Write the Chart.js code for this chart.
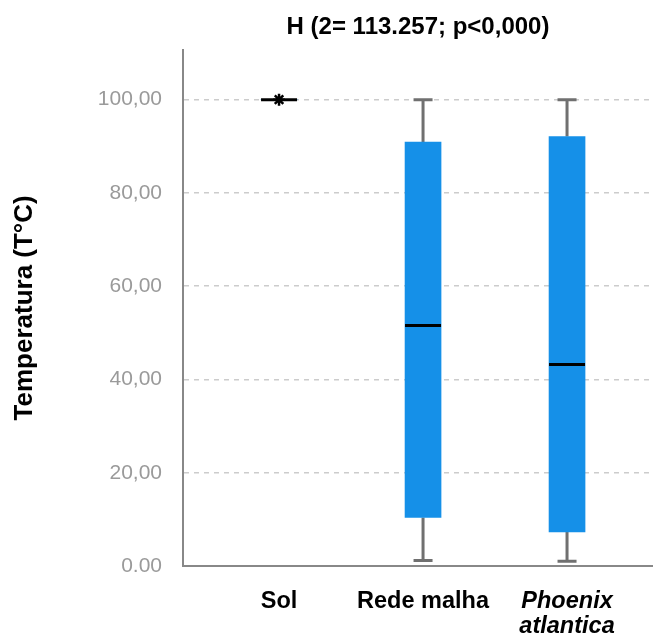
<!DOCTYPE html>
<html>
<head>
<meta charset="utf-8">
<script src="https://cdn.jsdelivr.net/npm/chart.js@4/dist/chart.umd.min.js"></script>
<style>
    body { margin: 0; background: #fff; }
    #boxChart { display: block; }
</style>
</head>
<body>
<canvas id="boxChart" width="653" height="637"></canvas>
<script>
// grupos
const categories = ["Sol", "Rede malha", "Phoenix atlantica"];
const xTickLabels = ["Sol", "Rede malha", ["Phoenix", "atlantica"]];

// resumo de cada caixa
const mins = [100, 1.2, 1.0];
const q1s = [100, 10.4, 7.3];
const medians = [100, 51.6, 43.2];
const q3s = [100, 90.9, 92.1];
const maxs = [100, 100, 100];

// valor extremo (*)
const outlierX = [0];
const outlierY = [100];

const yTickValues = [0, 20, 40, 60, 80, 100];
const yTickLabels = ["0.00", "20,00", "40,00", "60,00", "80,00", "100,00"];

const boxWidth = 36;
const capWidth = 19;

// bigodes e medianas desenhados com as escalas do grafico
const boxPlotLines = {
    id: "boxPlotLines",
    beforeDatasetsDraw(chart) {
        const { ctx, scales: { x, y } } = chart;
        ctx.save();
        ctx.strokeStyle = "#707070";
        ctx.lineWidth = 3;
        categories.forEach((c, i) => {
            const px = x.getPixelForValue(i);
            if (maxs[i] > q3s[i]) {
                ctx.beginPath();
                ctx.moveTo(px, y.getPixelForValue(q3s[i]));
                ctx.lineTo(px, y.getPixelForValue(maxs[i]));
                ctx.moveTo(px - capWidth / 2, y.getPixelForValue(maxs[i]));
                ctx.lineTo(px + capWidth / 2, y.getPixelForValue(maxs[i]));
                ctx.stroke();
            }
            if (mins[i] < q1s[i]) {
                ctx.beginPath();
                ctx.moveTo(px, y.getPixelForValue(q1s[i]));
                ctx.lineTo(px, y.getPixelForValue(mins[i]));
                ctx.moveTo(px - capWidth / 2, y.getPixelForValue(mins[i]));
                ctx.lineTo(px + capWidth / 2, y.getPixelForValue(mins[i]));
                ctx.stroke();
            }
        });
        ctx.restore();
    },
    afterDatasetsDraw(chart) {
        const { ctx, scales: { x, y } } = chart;
        ctx.save();
        ctx.strokeStyle = "#000";
        ctx.lineWidth = 3;
        categories.forEach((c, i) => {
            const px = x.getPixelForValue(i);
            const py = y.getPixelForValue(medians[i]);
            ctx.beginPath();
            ctx.moveTo(px - boxWidth / 2, py);
            ctx.lineTo(px + boxWidth / 2, py);
            ctx.stroke();
        });
        ctx.restore();
    },
};

Chart.defaults.font.family = "'Liberation Sans', Arial, sans-serif";

let boxCtx = document.getElementById("boxChart").getContext("2d");
let boxChart = new Chart(boxCtx, {
    type: "bar",
    data: {
        datasets: [
            {
                type: "scatter",
                label: "extremo",
                data: outlierX.map((v, i) => ({ x: v, y: outlierY[i] })),
                pointStyle: "star",
                radius: 6,
                borderColor: "#000",
                borderWidth: 2.5,
                order: 0,
            },
            {
                label: "caixa",
                data: categories.map((c, i) => ({ x: i, y: [q1s[i], q3s[i]] })),
                backgroundColor: "#1590e8",
                borderWidth: 0,
                barThickness: boxWidth,
                order: 1,
            },
        ],
    },
    plugins: [boxPlotLines],
    options: {
        responsive: false,
        animation: false,
        layout: { padding: 0, autoPadding: false },
        plugins: {
            legend: { display: false },
            tooltip: { enabled: false },
            title: {
                display: true,
                fullSize: false,
                text: "H (2= 113.257; p<0,000)",
                color: "#000",
                font: { size: 24, weight: "bold" },
                padding: { top: 13, bottom: 8 },
                align: "center",
            },
        },
        scales: {
            x: {
                type: "linear",
                offset: false,
                min: -0.667,
                max: 2.597,
                grid: { display: false, drawTicks: false },
                border: { color: "#888", width: 2 },
                afterBuildTicks: (axis) => {
                    axis.ticks = categories.map((c, i) => ({ value: i }));
                },
                afterFit: (axis) => {
                    axis.height = 71;
                    axis.paddingLeft = 0;
                    axis.paddingRight = 0;
                },
                ticks: {
                    autoSkip: false,
                    maxRotation: 0,
                    padding: 23,
                    color: "#000",
                    font: (c) => ({
                        size: 23.5,
                        weight: "bold",
                        style: c.index === 2 ? "italic" : "normal",
                        lineHeight: 1.07,
                    }),
                    callback: (v, i) => xTickLabels[i],
                },
            },
            y: {
                min: 0,
                max: 110.7,
                grid: {
                    color: "#cccccc",
                    lineWidth: 1.5,
                    drawTicks: false,
                },
                border: { color: "#888", width: 2, dash: [5, 5] },
                afterBuildTicks: (axis) => {
                    axis.ticks = yTickValues.map((v) => ({ value: v }));
                },
                afterFit: (axis) => {
                    axis.width = 183;
                    axis.paddingTop = 0;
                    axis.paddingBottom = 0;
                },
                ticks: {
                    padding: 21,
                    color: "#9a9a9a",
                    font: { size: 21 },
                    callback: (v, i) => yTickLabels[i],
                },
                title: {
                    display: true,
                    text: "Temperatura (T°C)",
                    color: "#000",
                    font: { size: 26, weight: "bold" },
                    padding: { top: 9, bottom: 0 },
                },
            },
        },
    },
});
</script>
</body>
</html>
